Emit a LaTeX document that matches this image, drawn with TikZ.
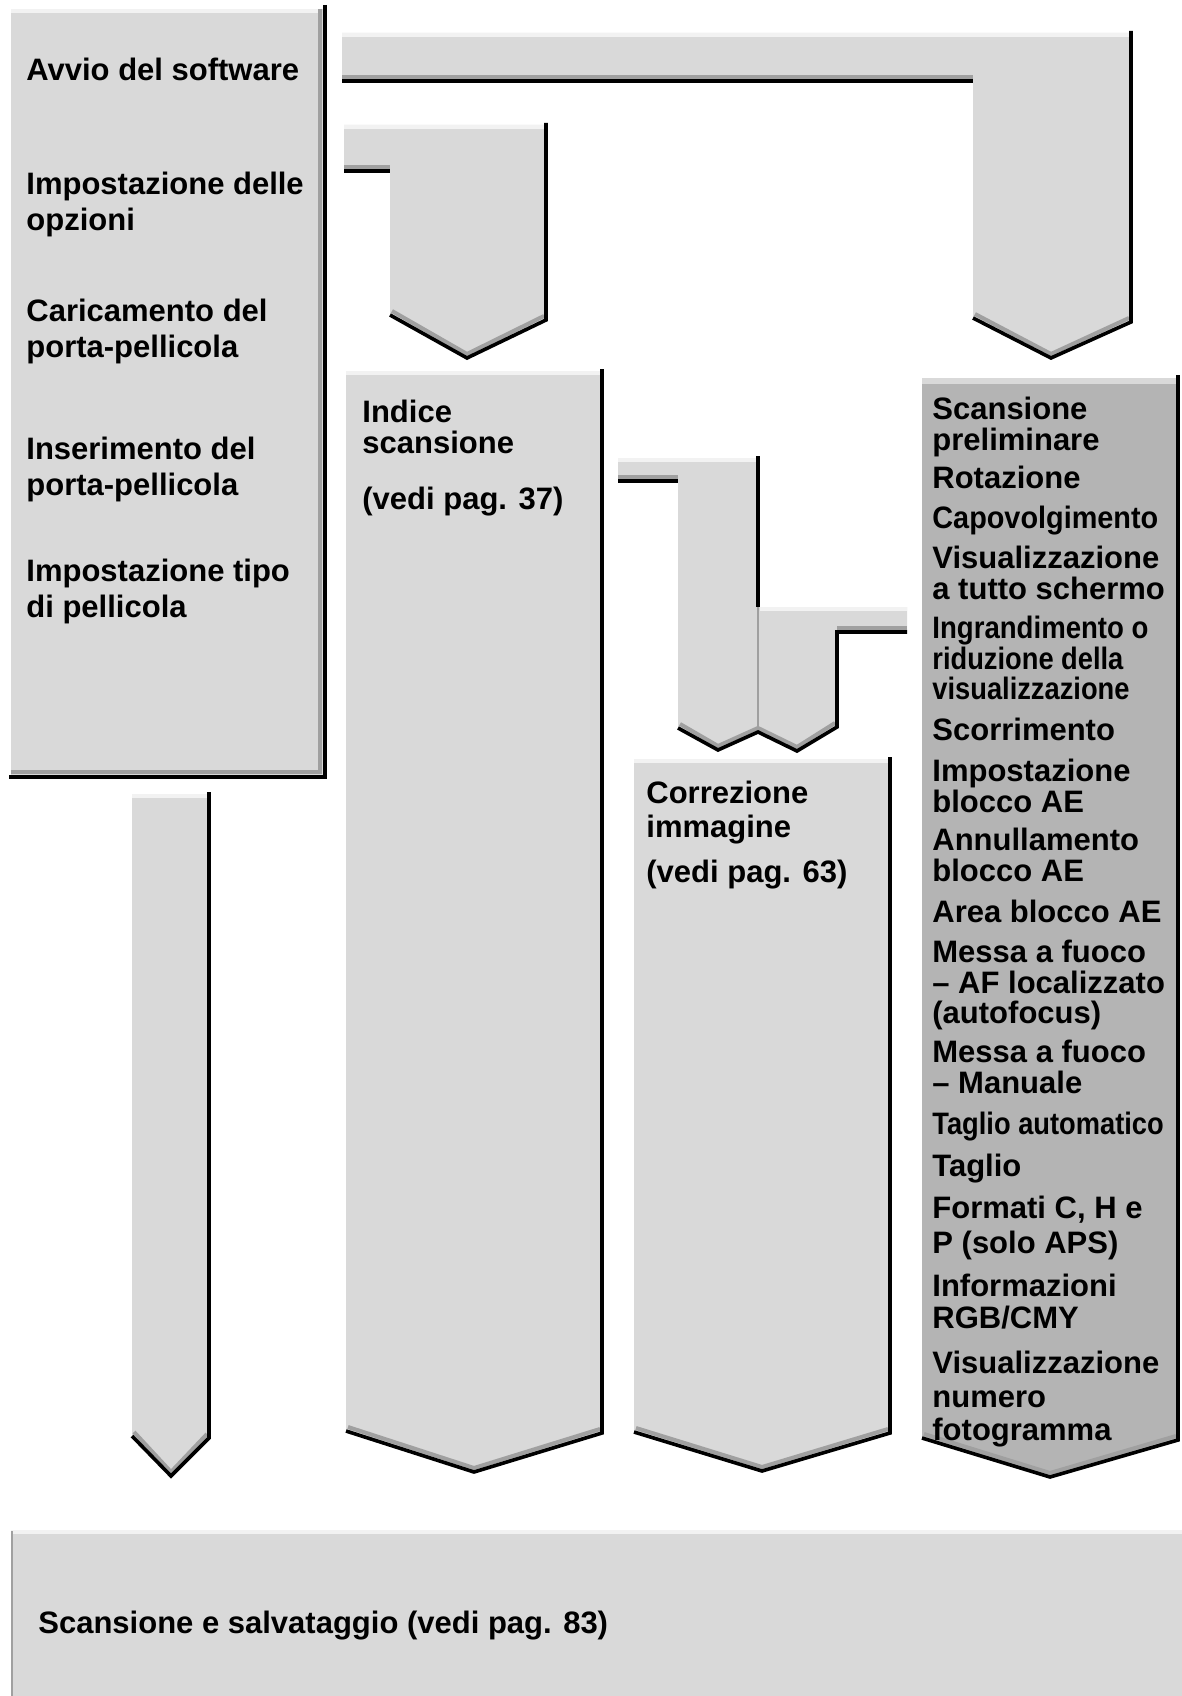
\documentclass[tikz,border=0pt]{standalone}
\usepackage{fontspec}
\setmainfont{Liberation Sans}
\usepackage{graphicx}
\usepackage{xcolor}
\definecolor{panelgray}{RGB}{217,217,217}
\definecolor{listgray}{RGB}{180,180,180}
\definecolor{bevelgray}{RGB}{160,160,160}
\definecolor{glossgray}{RGB}{242,242,242}
\newcommand{\squeeze}[2]{\scalebox{#1}[1]{#2}}

\begin{document}
\begin{tikzpicture}[
    x=0.5pt, y=-0.5pt,
    panel/.style={fill=panelgray},
    listpanel/.style={fill=listgray},
    gloss/.style={draw=glossgray, line width=2pt},
    bevel/.style={draw=bevelgray, line width=2pt},
    rim/.style={draw=black, line width=1.8pt},
    steptext/.style={anchor=north west, inner sep=0pt, align=left, font=\bfseries\fontsize{15.5}{17.8}\selectfont},
    boxtext/.style={steptext, font=\bfseries\fontsize{15.5}{16.6}\selectfont},
    listtext/.style={steptext, font=\bfseries\fontsize{15.5}{15.2}\selectfont}
]
    \fill[white] (0,0) rectangle (1182,1696);
    \useasboundingbox (0,0) rectangle (1182,1696);

    % Steps box
    \fill[panel] (11,9) rectangle (324,776);
    \draw[gloss] (11,11) -- (322,11);
    \draw[bevel] (320,9) -- (320,772) -- (11,772);
    \draw[rim] (325,5) -- (325,777) -- (9,777);

    % Arrow to preview column
    \fill[panel] (342,33) -- (1131,33) -- (1131,322) -- (1051,358) -- (973,318) -- (973,81) -- (342,81) -- cycle;
    \draw[gloss] (342,35) -- (1129,35);
    \draw[bevel] (342,77) -- (973,77);
    \draw[bevel] (1129,318) -- (1051,354) -- (975,314);
    \draw[rim] (342,81) -- (973,81);
    \draw[rim] (1131,31) -- (1131,322) -- (1051,358) -- (973,318);

    % Arrow to index column
    \fill[panel] (344,125) -- (546,125) -- (546,320) -- (467,358) -- (390,315) -- (390,171) -- (344,171) -- cycle;
    \draw[gloss] (344,127) -- (544,127);
    \draw[bevel] (344,167) -- (390,167);
    \draw[bevel] (544,316) -- (467,354) -- (392,311);
    \draw[rim] (344,171) -- (390,171);
    \draw[rim] (546,123) -- (546,320) -- (467,358) -- (390,315);

    % Index column
    \fill[panel] (346,371) -- (602,371) -- (602,1433) -- (474,1472) -- (346,1431) -- cycle;
    \draw[gloss] (346,373) -- (600,373);
    \draw[bevel] (600,1429) -- (474,1468) -- (348,1427);
    \draw[rim] (602,369) -- (602,1433) -- (474,1472) -- (346,1431);

    % Long arrow below steps
    \fill[panel] (132,794) -- (209,794) -- (209,1438) -- (171,1476) -- (132,1436) -- cycle;
    \draw[gloss] (132,796) -- (207,796);
    \draw[bevel] (207,1434) -- (171,1472) -- (134,1432);
    \draw[rim] (209,792) -- (209,1438) -- (171,1476) -- (132,1436);

    % Joined arrows to correction column
    \fill[panel] (618,458) -- (758,458) -- (758,732) -- (718,750) -- (678,728) -- (678,481) -- (618,481) -- cycle;
    \fill[panel] (758,607) -- (907,607) -- (907,632) -- (837,632) -- (837,727) -- (797,751) -- (758,732) -- cycle;
    \draw[gloss] (618,460) -- (756,460);
    \draw[gloss] (760,609) -- (907,609);
    \draw[bevel] (618,477) -- (678,477);
    \draw[bevel] (907,628) -- (837,628);
    \draw[bevel] (680,724) -- (718,746) -- (758,728) -- (797,747) -- (835,723);
    \draw[bevelgray, line width=0.6pt] (758,607) -- (758,730);
    \draw[rim] (618,481) -- (678,481);
    \draw[rim] (758,456) -- (758,607);
    \draw[rim] (907,632) -- (837,632) -- (837,727) -- (797,751) -- (758,732) -- (718,750) -- (678,728);

    % Correction column
    \fill[panel] (634,759) -- (890,759) -- (890,1433) -- (762,1471) -- (634,1432) -- cycle;
    \draw[gloss] (634,761) -- (888,761);
    \draw[bevel] (888,1429) -- (762,1467) -- (636,1428);
    \draw[rim] (890,757) -- (890,1433) -- (762,1471) -- (634,1432);

    % Preview column
    \fill[listpanel] (922,378) -- (1178,378) -- (1178,1440) -- (1050,1477) -- (922,1438) -- cycle;
    \draw[draw=panelgray, line width=3pt] (922,381) -- (1176,381);
    \draw[bevel] (1176,1436) -- (1050,1473) -- (924,1434);
    \draw[rim] (1178,375) -- (1178,1440) -- (1050,1477) -- (922,1438);

    % Save bar
    \fill[panel] (11,1531) rectangle (1182,1696);
    \draw[gloss] (11,1532) -- (1182,1532);
    \draw[bevelgray, line width=1pt] (12,1531) -- (12,1696);

    % Steps
    \node[steptext] (avvio) at (26,58) {Avvio del software};
    \node[steptext] (opzioni) at (26,172) {Impostazione delle\\opzioni};
    \node[steptext] (carica) at (26,299) {Caricamento del\\porta-pellicola};
    \node[steptext] (inser) at (26,437) {Inserimento del\\porta-pellicola};
    \node[steptext] (tipo) at (26,559) {Impostazione tipo\\di pellicola};

    % Index
    \node[listtext] (indice) at (362,400) {Indice\\scansione};
    \node[steptext] (indicepag) at (362,487) {(vedi pag. 37)};

    % Correction
    \node[boxtext] (corr) at (646,781) {Correzione\\immagine};
    \node[steptext] (corrpag) at (646,860) {(vedi pag. 63)};

    % Preview functions
    \node[listtext] (prescan) at (932,397) {Scansione\\preliminare};
    \node[listtext] (rotate) at (932,466) {Rotazione};
    \node[listtext] (flip) at (932,506) {\squeeze{0.93}{Capovolgimento}};
    \node[listtext] (full) at (932,546) {Visualizzazione\\a tutto schermo};
    \node[listtext] (zoomv) at (932,616) {\squeeze{0.89}{Ingrandimento o}\\\squeeze{0.88}{riduzione della}\\\squeeze{0.88}{visualizzazione}};
    \node[listtext] (scroll) at (932,718) {Scorrimento};
    \node[listtext] (aeset) at (932,759) {Impostazione\\blocco AE};
    \node[listtext] (aeoff) at (932,828) {Annullamento\\blocco AE};
    \node[listtext] (aearea) at (932,900) {Area blocco AE};
    \node[listtext] (afspot) at (932,940) {Messa a fuoco\\– AF localizzato\\(autofocus)};
    \node[listtext] (afman) at (932,1040) {Messa a fuoco\\– Manuale};
    \node[listtext] (autocrop) at (932,1112) {\squeeze{0.88}{Taglio automatico}};
    \node[listtext] (crop) at (932,1154) {Taglio};
    \node[listtext] (chp) at (932,1196) {Formati C, H e\\[2pt]P (solo APS)};
    \node[listtext] (rgb) at (932,1274) {Informazioni\\[0.8pt]RGB/CMY};
    \node[listtext] (frame) at (932,1351) {Visualizzazione\\[1.5pt]numero\\[1.5pt]fotogramma};

    % Save
    \node[steptext] (salva) at (38,1611) {Scansione e salvataggio (vedi pag. 83)};
\end{tikzpicture}
\end{document}
